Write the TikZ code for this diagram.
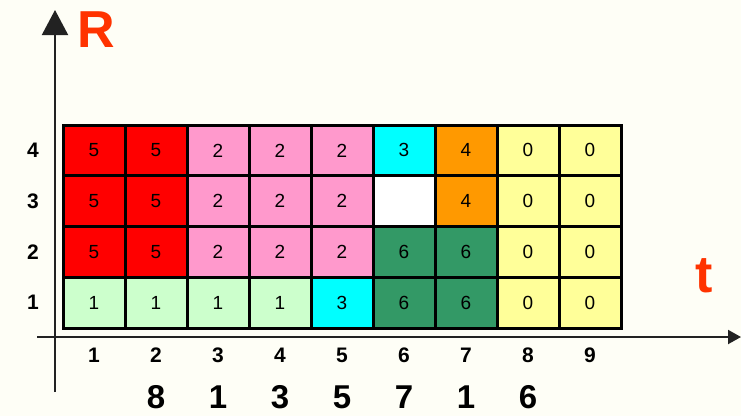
\documentclass[tikz,border=0pt]{standalone}
\usepackage{fontspec}
\setmainfont{Liberation Sans}
\usetikzlibrary{arrows.meta}

\definecolor{bgcol}{HTML}{FEFEF6}
\definecolor{axiscol}{HTML}{222222}
\definecolor{labred}{HTML}{FF3300}
\definecolor{cred}{HTML}{FF0000}
\definecolor{cpink}{HTML}{FF99CC}
\definecolor{cmint}{HTML}{CCFFCC}
\definecolor{ccyan}{HTML}{00FFFF}
\definecolor{cgreen}{HTML}{339966}
\definecolor{corange}{HTML}{FF9900}
\definecolor{cyellow}{HTML}{FFFF99}
\definecolor{cwhite}{HTML}{FFFFFF}

\tikzset{
  cell/.style={draw=black, line width=3pt, minimum width=62pt, minimum height=50.75pt,
    inner sep=0pt, font=\fontsize{19}{19}\selectfont},
  tick/.style={font=\fontsize{21}{21}\selectfont\bfseries},
  total/.style={inner sep=1pt, font=\fontsize{33}{33}\selectfont\bfseries},
  axislab/.style={text=labred, font=\fontsize{52}{52}\selectfont\bfseries},
  axis/.style={draw=axiscol, line width=2pt}
}

\begin{document}
\begin{tikzpicture}[x=1pt, y=-1pt]
    \fill[bgcol] (0,0) rectangle (741,416);
    \useasboundingbox (0,0) rectangle (741,416);
    % axes
    \coordinate (Ybot) at (55,392);
    \coordinate (Ytop) at (55,10);
    \coordinate (Xleft) at (37,337);
    \coordinate (Xright) at (741,337);
    \draw[axis, -{Triangle[width=26pt,length=25pt]}] (Ybot) -- (Ytop);
    \draw[axis, -{Triangle[width=14pt,length=13pt]}] (Xleft) -- (Xright);
    \node[axislab] (R) at (96,30) {R};
    \node[axislab] (t) at (704,276) {t};
    % cells
    \foreach \c/\r/\clr/\v in {
        1/4/cred/5, 2/4/cred/5, 3/4/cpink/2, 4/4/cpink/2, 5/4/cpink/2, 6/4/ccyan/3, 7/4/corange/4, 8/4/cyellow/0, 9/4/cyellow/0,
        1/3/cred/5, 2/3/cred/5, 3/3/cpink/2, 4/3/cpink/2, 5/3/cpink/2, 6/3/cwhite/, 7/3/corange/4, 8/3/cyellow/0, 9/3/cyellow/0,
        1/2/cred/5, 2/2/cred/5, 3/2/cpink/2, 4/2/cpink/2, 5/2/cpink/2, 6/2/cgreen/6, 7/2/cgreen/6, 8/2/cyellow/0, 9/2/cyellow/0,
        1/1/cmint/1, 2/1/cmint/1, 3/1/cmint/1, 4/1/cmint/1, 5/1/ccyan/3, 6/1/cgreen/6, 7/1/cgreen/6, 8/1/cyellow/0, 9/1/cyellow/0}
      {\node[cell, fill=\clr] (c\c-\r) at ({32+62*\c}, {328-50.75*(\r-0.5)}) {\v};}
    % tick labels
    \foreach \c in {1,...,9} {\node[tick] (tx\c) at ({32+62*\c}, 355) {\c};}
    \foreach \r in {1,...,4} {\node[tick] (ty\r) at (33, {328-50.75*(\r-0.5)}) {\r};}
    % totals
    \foreach \c/\v in {2/8, 3/1, 4/3, 5/5, 6/7, 7/1, 8/6} {\node[total] (s\c) at ({32+62*\c}, 397) {\v};}
\end{tikzpicture}
\end{document}
